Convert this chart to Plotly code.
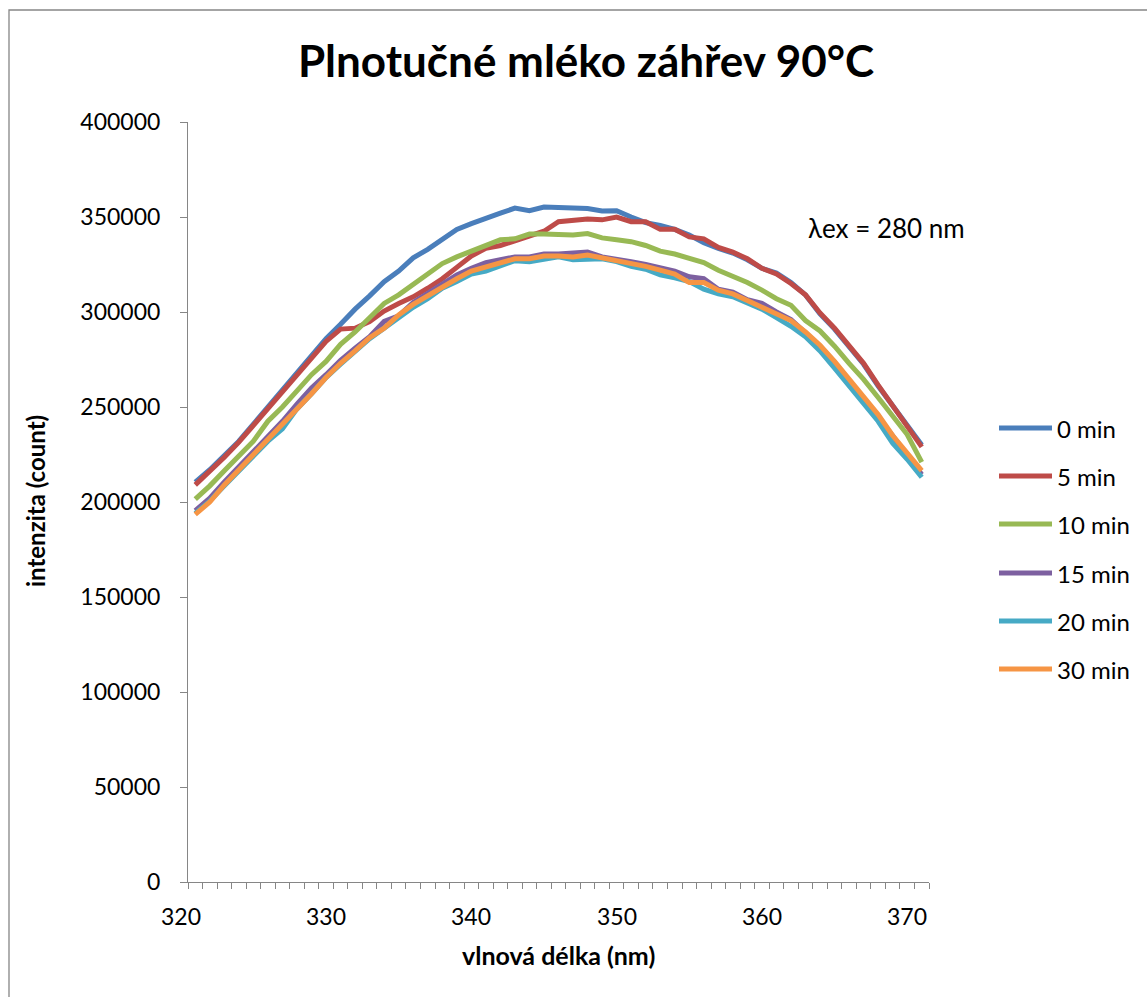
import plotly.graph_objects as go

# Emission wavelengths (nm)
wavelength = list(range(321, 372))

# Fluorescence intensity (count) for each heating time
int_0min = [210500, 217000, 224500, 232000, 241000, 250000, 259000, 268000, 277000, 286000,
            293500, 301500, 308500, 316000, 321500, 328500, 333000, 338500, 343500, 346500,
            349000, 352000, 354700, 353300, 355200, 355000, 354800, 354500, 353200, 353300,
            350000, 347000, 345500, 343500, 340500, 336500, 333500, 331000, 327500, 323000,
            320500, 315500, 309000, 299000, 291000, 282000, 272500, 261000, 250500, 240000,
            230000]
int_5min = [209000, 216000, 223500, 231500, 240500, 249500, 258500, 267500, 276500, 284500,
            291000, 291500, 295000, 300500, 304500, 308000, 312500, 317500, 323500, 329500,
            333500, 335000, 337500, 340000, 342500, 347500, 348500, 349000, 348500, 350000,
            347500, 347500, 343500, 343500, 339500, 338500, 334000, 331500, 328000, 323000,
            320000, 315000, 309000, 299500, 291500, 282500, 273000, 261500, 250500, 240500,
            229000]
int_10min = [201500, 208500, 216500, 224000, 232000, 242500, 250000, 258500, 267000, 274000,
             283000, 289500, 297000, 304500, 309000, 314500, 320500, 325500, 329000, 332000,
             335000, 338000, 338500, 341000, 341000, 340500, 340500, 341300, 339000, 338000,
             337000, 335000, 332000, 330500, 328500, 326000, 322000, 319000, 315500, 311500,
             307000, 303500, 295500, 290000, 282000, 273000, 264500, 255000, 245000, 235500,
             221000]
int_15min = [195500, 202000, 210500, 218500, 226500, 234500, 242500, 251500, 260000, 267000,
             274500, 281000, 287000, 295000, 298000, 305000, 310000, 314500, 319500, 323000,
             326000, 327500, 329000, 329000, 330500, 330500, 331000, 331500, 329000, 328000,
             326500, 325000, 323000, 321500, 318500, 317500, 312000, 310500, 306500, 304500,
             300000, 296000, 289000, 282000, 273500, 264500, 254500, 245000, 235000, 225500,
             214500]
int_20min = [194000, 200500, 208500, 216500, 224500, 232000, 238500, 249000, 257000, 265500,
             272500, 279000, 286000, 291500, 297000, 302500, 307000, 312500, 316000, 320000,
             321500, 324500, 327000, 326500, 328000, 329000, 327500, 328000, 328000, 326500,
             324000, 322500, 319500, 318000, 316000, 312000, 309500, 308000, 305000, 301500,
             297000, 292500, 287000, 279500, 270500, 261500, 251500, 242500, 231000, 222500,
             213000]
int_30min = [193500, 200000, 209000, 217000, 224500, 232500, 241000, 249000, 257000, 265500,
             273000, 279500, 286500, 291500, 298500, 304000, 308500, 313500, 317500, 321500,
             323500, 326000, 328000, 328000, 329500, 329500, 329000, 330000, 328500, 327500,
             325500, 324000, 322000, 320000, 315500, 315500, 311500, 309500, 306000, 302500,
             299500, 295500, 289500, 282500, 274000, 265000, 255500, 246000, 235000, 226000,
             216500]

series_names = ["0 min", "5 min", "10 min", "15 min", "20 min", "30 min"]
series_values = [int_0min, int_5min, int_10min, int_15min, int_20min, int_30min]
series_colors = ["#4A7EBB", "#BE4B48", "#98B954", "#7D60A0", "#46AAC5", "#F69544"]

x_tick_labels = [320, 330, 340, 350, 360, 370]
y_tick_values = list(range(0, 400001, 50000))

FONT = "Lato, 'Open Sans', sans-serif"
AXIS_GREY = "#868686"

W, H = 1147, 997
L, R, T, B = 188, 218, 122, 115
plot_w = W - L - R
plot_h = H - T - B

x_lo = wavelength[0] - 0.5
x_hi = wavelength[-1] + 0.5


def px_to_paper_x(px):
    return (px - L) / plot_w


def px_to_paper_y(py):
    return (H - B - py) / plot_h


def wl_to_paper_x(w):
    return (w - x_lo) / (x_hi - x_lo)


fig = go.Figure()
for name, vals, col in zip(series_names, series_values, series_colors):
    fig.add_trace(go.Scatter(
        x=wavelength, y=vals, name=name, mode="lines",
        line=dict(color=col, width=5),
        showlegend=False,
    ))

# category-style tick marks between wavelengths
boundary_ticks = [w - 0.5 for w in wavelength] + [wavelength[-1] + 0.5]

fig.update_layout(
    width=W, height=H,
    margin=dict(l=L, r=R, t=T, b=B),
    paper_bgcolor="white", plot_bgcolor="white",
    font=dict(family=FONT, size=23, color="black"),
    title=dict(
        text="<b>Plnotučné mléko záhřev 90°C</b>",
        x=586 / W, xref="container", xanchor="center",
        y=1 - 62 / H, yref="container", yanchor="middle",
        font=dict(family=FONT, size=44, color="black"),
    ),
    xaxis=dict(
        range=[x_lo, x_hi],
        tickmode="array", tickvals=boundary_ticks,
        showticklabels=False,
        ticks="outside", ticklen=6, tickwidth=1, tickcolor=AXIS_GREY,
        showline=True, linecolor=AXIS_GREY, linewidth=1,
        showgrid=False, zeroline=False,
    ),
    yaxis=dict(
        range=[0, 400000],
        tickmode="array", tickvals=y_tick_values,
        ticktext=[str(v) for v in y_tick_values],
        ticks="outside", ticklen=7, tickwidth=1, tickcolor=AXIS_GREY,
        ticklabelstandoff=15,
        showline=True, linecolor=AXIS_GREY, linewidth=1,
        showgrid=False, zeroline=False,
        tickfont=dict(size=23),
    ),
)

annotations = []
# x tick labels (the first one sits left of the axis start)
for v in x_tick_labels:
    annotations.append(dict(
        x=wl_to_paper_x(v), xref="paper", y=0, yref="paper", yshift=-34,
        text=str(v), showarrow=False, xanchor="center", yanchor="middle",
        font=dict(size=23),
    ))
# axis titles
annotations.append(dict(
    x=0.5, xref="paper", y=px_to_paper_y(955), yref="paper",
    text="<b>vlnová délka (nm)</b>", showarrow=False,
    xanchor="center", yanchor="middle", font=dict(size=25),
))
annotations.append(dict(
    x=px_to_paper_x(35), xref="paper", y=px_to_paper_y(501), yref="paper",
    text="<b>intenzita (count)</b>", showarrow=False, textangle=-90,
    xanchor="center", yanchor="middle", font=dict(size=24),
))
# excitation wavelength note
annotations.append(dict(
    x=px_to_paper_x(806), xref="paper", y=px_to_paper_y(228), yref="paper",
    text="λex = 280 nm", showarrow=False, xanchor="left", yanchor="middle",
    font=dict(size=26),
))

shapes = []
# legend entries
legend_rows = [428, 476, 524, 573, 621, 669]
for name, col, row in zip(series_names, series_colors, legend_rows):
    shapes.append(dict(
        type="line", xref="paper", yref="paper",
        x0=px_to_paper_x(999), x1=px_to_paper_x(1052),
        y0=px_to_paper_y(row), y1=px_to_paper_y(row),
        line=dict(color=col, width=5),
    ))
    annotations.append(dict(
        x=px_to_paper_x(1055), xref="paper", y=px_to_paper_y(row), yref="paper",
        text=name, showarrow=False, xanchor="left", yanchor="middle",
        font=dict(size=24),
    ))

# chart area border
shapes.append(dict(
    type="rect", xref="paper", yref="paper",
    x0=px_to_paper_x(9), x1=px_to_paper_x(W + 20),
    y0=px_to_paper_y(H + 20), y1=px_to_paper_y(10),
    line=dict(color=AXIS_GREY, width=1.3), layer="below",
))

fig.update_layout(annotations=annotations, shapes=shapes)
fig.write_html("out.html")
